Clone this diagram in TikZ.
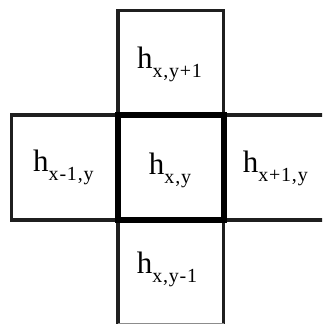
\documentclass[tikz,border=0pt]{standalone}
\usepackage{fontspec}
\setmainfont{Liberation Serif}
\newcommand{\hlab}[1]{{\fontsize{31}{31}\selectfont h}\raisebox{-9pt}{\fontsize{20}{20}\selectfont\addfontfeatures{LetterSpace=4}#1}}
\begin{document}
\begin{tikzpicture}[x=1pt,y=-1pt,
  thinbox/.style={line width=3.6pt,line join=miter,draw=black!88},
  thickbox/.style={line width=6pt,line join=miter,draw=black},
  lab/.style={anchor=base,inner sep=0pt,text=black}]
\useasboundingbox (0,0) rectangle (322,324);
\clip (0,0) rectangle (322,324);
\fill[white] (0,0) rectangle (322,324);
% top
\draw[thinbox] (118,115) -- (118,10.5) -- (223.5,10.5) -- (223.5,115);
% left
\draw[thinbox] (118,115) -- (11.3,115) -- (11.3,220) -- (118,220);
% right
\draw[thinbox] (223.5,115) -- (330,115);
\draw[thinbox] (223.5,220) -- (330,220);
% bottom
\draw[thinbox] (118,220) -- (118,330);
\draw[thinbox] (223.5,220) -- (223.5,330);
\draw[line width=1.5pt,draw=black!45] (118,323.3) -- (223.5,323.3);
% center
\draw[thickbox] (118,115) rectangle (223.5,220);
\node[lab] (top) at (169.5,68.3) {\hlab{x,y+1}};
\node[lab] (left) at (63.4,171.7) {\hlab{x-1,y}};
\node[lab] (mid) at (170,174.3) {\hlab{x,y}};
\node[lab] (right) at (275.3,172.7) {\hlab{x+1,y}};
\node[lab] (bottom) at (167,273.3) {\hlab{x,y-1}};
\end{tikzpicture}
\end{document}
